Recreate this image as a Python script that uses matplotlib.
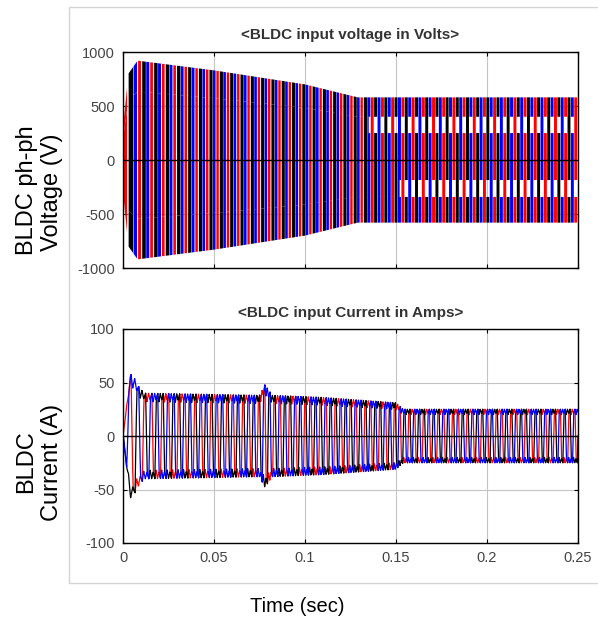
import numpy as np
import matplotlib
matplotlib.use("Agg")
import matplotlib.pyplot as plt
from matplotlib.patches import Rectangle

plt.rcParams["font.family"] = ["Liberation Sans", "DejaVu Sans"]
plt.rcParams["axes.unicode_minus"] = False

# envelope / speed readings taken off the scope traces
volt_env_t = [0.0, 0.003, 0.008, 0.05, 0.1, 0.129, 0.25]
volt_env_v = [300, 800, 920, 830, 700, 580, 580]
volt_freq_t = [0.0, 0.01, 0.05, 0.25]
volt_freq_hz = [50, 75, 88, 90]
volt_band_up = [0.43, 0.69]    # white band above zero (fraction of envelope)
volt_band_dn = [0.32, 0.59]    # white band below zero
volt_band_start = [0.135, 0.152]
volt_window_deg = {"red": 42, "black": 54, "blue": 46}   # block width before ~0.13 s
volt_window_late = 52

curr_env_t = [0.0, 0.004, 0.006, 0.009, 0.012, 0.075, 0.078, 0.082, 0.11, 0.15, 0.154, 0.25]
curr_env_a = [0, 58, 55, 45, 40, 38, 48, 38, 36, 31, 25, 25]
curr_freq_t = [0.0, 0.007, 0.02, 0.15, 0.25]
curr_freq_hz = [60, 80, 110, 125, 125]
curr_shape_deg = [0, 15, 45, 70, 100, 130, 165, 180, 195, 225, 250, 280, 310, 345, 360]
curr_shape_val = [0, 0.85, 1.0, 0.8, 1.0, 0.85, 1.0, 0, -0.85, -1.0, -0.8, -1.0, -0.85, -1.0, 0]

phase_colors = ["red", "black", "blue"]
phase_shift = [0, 240, 120]

x_ticks = [0, 0.05, 0.1, 0.15, 0.2, 0.25]
x_labels = ["0", "0.05", "0.1", "0.15", "0.2", "0.25"]
v_ticks = [-1000, -500, 0, 500, 1000]
i_ticks = [-100, -50, 0, 50, 100]

dt = 2e-6
t = np.arange(0, 0.25 + dt, dt)

th_v = 360 * np.cumsum(np.interp(t, volt_freq_t, volt_freq_hz)) * dt
env_v = np.interp(t, volt_env_t, volt_env_v)
th_i = 60 + 360 * np.cumsum(np.interp(t, curr_freq_t, curr_freq_hz)) * dt
env_i = np.interp(t, curr_env_t, curr_env_a)

# before the bands open the blocks are filled solid
up_hi = volt_band_up[1] * env_v
up_lo = np.where(t < volt_band_start[0], volt_band_up[1], volt_band_up[0]) * env_v
dn_hi = volt_band_dn[1] * env_v
dn_lo = np.where(t < volt_band_start[1], volt_band_dn[1], volt_band_dn[0]) * env_v

fig = plt.figure(figsize=(5.98, 6.26), dpi=100)
fig.add_artist(Rectangle((69/598, 1-583/626), 0.95, 576/626, transform=fig.transFigure,
                         fill=False, edgecolor="#d4d4d4", lw=1))

ax1 = fig.add_axes([123/598, 1-268/626, 455/598, 216/626])
ax2 = fig.add_axes([123/598, 1-543/626, 455/598, 214/626])

for c, s in zip(phase_colors, phase_shift):
    ang = (th_v - s) % 360
    width = np.where(t < volt_band_start[0], volt_window_deg[c], volt_window_late)
    win = (ang % 180) < width
    pos = win & (ang < 180)
    neg = win & (ang >= 180)
    ax1.fill_between(t, up_hi, env_v, where=pos, color=c, lw=0)
    ax1.fill_between(t, -env_v, up_lo, where=pos, color=c, lw=0)
    ax1.fill_between(t, -dn_lo, env_v, where=neg, color=c, lw=0)
    ax1.fill_between(t, -env_v, -dn_hi, where=neg, color=c, lw=0)
    ang_i = (th_i - s) % 360
    ax2.plot(t, np.interp(ang_i, curr_shape_deg, curr_shape_val) * env_i, color=c, lw=0.9)

for ax, yt, title in [(ax1, v_ticks, "<BLDC input voltage in Volts>"),
                      (ax2, i_ticks, "<BLDC input Current in Amps>")]:
    ax.axhline(0, color="black", lw=1, zorder=3)
    ax.set_xlim(0, 0.25)
    ax.set_ylim(yt[0], yt[-1])
    ax.set_yticks(yt)
    ax.set_xticks(x_ticks)
    ax.grid(True, color="#c4c4c4", lw=0.8)
    ax.set_axisbelow(True)
    ax.tick_params(direction="in", length=3, labelsize=10.5, labelcolor="#444444",
                   pad=6, top=True, right=True)
    for sp in ax.spines.values():
        sp.set_linewidth(1.0)
        sp.set_zorder(4)
    ax.set_title(title, fontsize=11, fontweight="bold", color="#333333", pad=9)
ax1.set_xticklabels([])
ax2.set_xticklabels(x_labels)

fig.text(27/598, 1-190/626, "BLDC ph-ph", rotation=90, ha="center", va="center", fontsize=17)
fig.text(52/598, 1-192/626, "Voltage (V)", rotation=90, ha="center", va="center", fontsize=17)
fig.text(26/598, 1-462/626, "BLDC", rotation=90, ha="center", va="center", fontsize=17)
fig.text(52/598, 1-462/626, "Current (A)", rotation=90, ha="center", va="center", fontsize=17)
fig.text(297/598, 1-607/626, "Time (sec)", ha="center", va="center", fontsize=14.5)

fig.savefig("out.png", dpi=100)
